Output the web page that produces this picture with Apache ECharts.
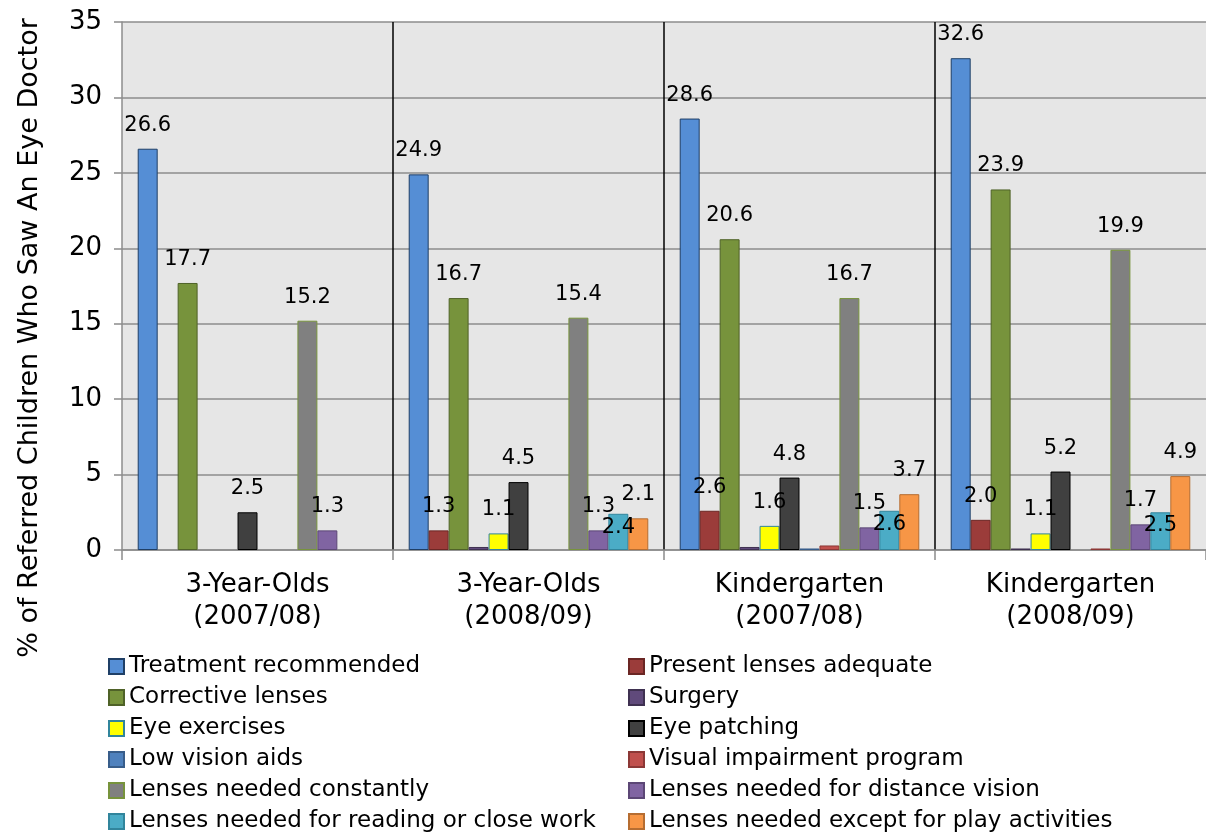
<!DOCTYPE html>
<html>
<head>
<meta charset="utf-8">
<script src="https://cdn.jsdelivr.net/npm/echarts@6/dist/echarts.min.js"></script>
<style>
html,body{margin:0;padding:0;background:#fff;}
#chart{width:1206px;height:833px;}
</style>
</head>
<body>
<div id="chart"></div>
<script>
// ---- data ----
const categories = ['3-Year-Olds\n(2007/08)', '3-Year-Olds\n(2008/09)', 'Kindergarten\n(2007/08)', 'Kindergarten\n(2008/09)'];
const yTicks = [0, 5, 10, 15, 20, 25, 30, 35];
const seriesNames = [
  'Treatment recommended', 'Present lenses adequate',
  'Corrective lenses', 'Surgery',
  'Eye exercises', 'Eye patching',
  'Low vision aids', 'Visual impairment program',
  'Lenses needed constantly', 'Lenses needed for distance vision',
  'Lenses needed for reading or close work', 'Lenses needed except for play activities'
];
const treatmentRecommended = [26.6, 24.9, 28.6, 32.6];
const presentLensesAdequate = [null, 1.3, 2.6, 2.0];
const correctiveLenses = [17.7, 16.7, 20.6, 23.9];
const surgery = [null, 0.2, 0.2, 0.1];
const eyeExercises = [null, 1.1, 1.6, 1.1];
const eyePatching = [2.5, 4.5, 4.8, 5.2];
const lowVisionAids = [null, null, 0.1, null];
const visualImpairmentProgram = [null, null, 0.3, 0.1];
const lensesConstantly = [15.2, 15.4, 16.7, 19.9];
const lensesDistance = [1.3, 1.3, 1.5, 1.7];
const lensesReading = [null, 2.4, 2.6, 2.5];
const lensesExceptPlay = [null, 2.1, 3.7, 4.9];
const seriesValues = [
  treatmentRecommended, presentLensesAdequate, correctiveLenses, surgery,
  eyeExercises, eyePatching, lowVisionAids, visualImpairmentProgram,
  lensesConstantly, lensesDistance, lensesReading, lensesExceptPlay
];

// ---- styles ----
const fills = ['#558ED5', '#9B3C3A', '#77933C', '#604A7B', '#FFFF00', '#404040',
               '#4F81BD', '#C0504D', '#808080', '#8064A2', '#4BACC6', '#F79646'];
const borders = ['#1F3F66', '#6B2624', '#4F6228', '#3F3151', '#31859C', '#000000',
                 '#385D8A', '#8C3836', '#77933C', '#5C4776', '#31859C', '#B66D31'];
const labelShown = [true, true, true, false, true, true, false, false, true, true, true, true];
const labelInside = [false, false, false, false, false, false, false, false, false, false, true, false];
const FONT = 'DejaVu Sans';

const chart = echarts.init(document.getElementById('chart'), null, {renderer: 'canvas'});

const series = seriesNames.map((name, i) => ({
  name: name,
  type: 'bar',
  data: seriesValues[i],
  barGap: '0%',
  barCategoryGap: '11.6%',
  itemStyle: { color: fills[i], borderColor: borders[i], borderWidth: 1 },
  label: {
    show: labelShown[i],
    position: labelInside[i] ? 'insideTop' : 'top',
    distance: labelInside[i] ? 3 : 13,
    color: '#000',
    fontFamily: FONT,
    fontSize: 21,
    formatter: p => (p.value == null ? '' : Number(p.value).toFixed(1))
  },
  emphasis: { disabled: true }
}));

const legendText = { fontFamily: FONT, fontSize: 23, color: '#000', lineHeight: 22 };

chart.setOption({
  animation: false,
  backgroundColor: '#ffffff',
  grid: {
    left: 122, top: 22, right: -8, bottom: 283,
    show: true, backgroundColor: '#E6E6E6', borderWidth: 0
  },
  xAxis: {
    type: 'category',
    data: categories,
    axisLine: { show: true, lineStyle: { color: '#8C8C8C', width: 1.5 } },
    axisTick: { show: true, length: 10, lineStyle: { color: '#8C8C8C', width: 1.5 } },
    splitLine: { show: true, showMinLine: false, showMaxLine: false, lineStyle: { color: '#000', width: 1.5 } },
    axisLabel: { fontFamily: FONT, fontSize: 26, color: '#000', lineHeight: 32, margin: 19 }
  },
  yAxis: {
    type: 'value',
    min: 0, max: 35, interval: 5,
    axisLine: { show: true, lineStyle: { color: '#8C8C8C', width: 1.5 } },
    axisTick: { show: true, length: 8, lineStyle: { color: '#8C8C8C', width: 1.5 } },
    splitLine: { show: true, lineStyle: { color: '#8C8C8C', width: 1.5 } },
    axisLabel: {
      fontFamily: FONT, fontSize: 26, color: '#000', margin: 20,
      formatter: v => (yTicks.indexOf(v) >= 0 ? String(v) : '')
    }
  },
  legend: [
    {
      orient: 'vertical', left: 108, top: 655, height: 200, padding: 0, itemGap: 8,
      itemWidth: 15, itemHeight: 15, icon: 'rect', selectedMode: false,
      data: seriesNames.filter((_, i) => i % 2 === 0),
      textStyle: legendText
    },
    {
      orient: 'vertical', left: 628, top: 655, height: 200, padding: 0, itemGap: 8,
      itemWidth: 15, itemHeight: 15, icon: 'rect', selectedMode: false,
      data: seriesNames.filter((_, i) => i % 2 === 1),
      textStyle: legendText
    }
  ],
  graphic: [{
    type: 'text',
    x: 30, y: 338,
    rotation: Math.PI / 2,
    style: {
      text: '% of Referred Children Who Saw An Eye Doctor',
      fontFamily: FONT, fontSize: 27, fill: '#000',
      textAlign: 'center', textVerticalAlign: 'middle'
    }
  }],
  series: series
});
</script>
</body>
</html>
